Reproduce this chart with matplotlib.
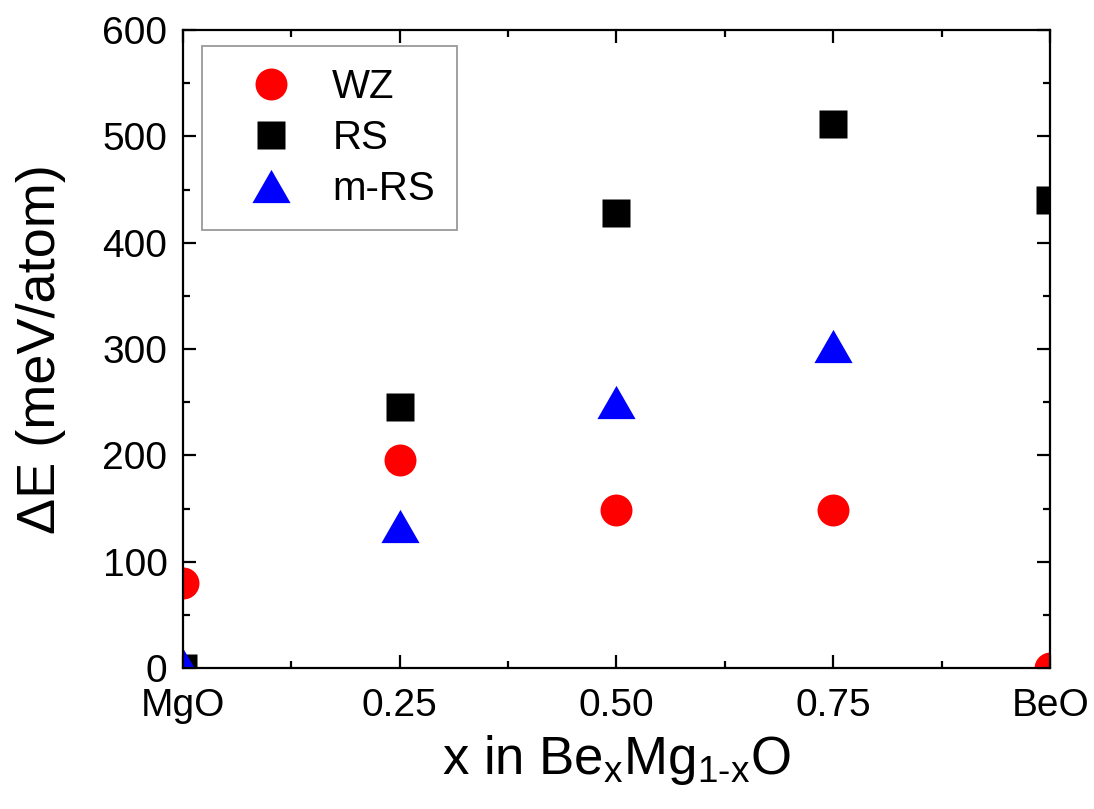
import matplotlib
matplotlib.use("Agg")
import matplotlib.pyplot as plt
from matplotlib.ticker import MultipleLocator

plt.rcParams['font.family'] = ['Liberation Sans', 'DejaVu Sans']
plt.rcParams['mathtext.fontset'] = 'custom'
plt.rcParams['mathtext.rm'] = 'Liberation Sans'
plt.rcParams['mathtext.it'] = 'Liberation Sans'

x = [0.0, 0.25, 0.50, 0.75, 1.0]
x_labels = ["MgO", "0.25", "0.50", "0.75", "BeO"]
wz = [80, 196, 149, 149, 0]
rs = [0, 246, 428, 512, 440]
x_mrs = [0.0, 0.25, 0.50, 0.75]
mrs = [3, 134, 250, 303]

tri = [(0, 0.87), (-1, -0.87), (1, -0.87), (0, 0.87)]

fig = plt.figure(figsize=(10.94, 8.09), dpi=100)
ax = fig.add_axes([0.167, 0.174, 0.793, 0.789])

ax.plot(x, wz, 'o', color='#ff0000', ms=23, mec='none', label='WZ')
ax.plot(x, rs, 's', color='black', ms=20, mec='none', label='RS')
ax.plot(x_mrs, mrs, marker=tri, ls='none', color='#0000ff', ms=27.5, mec='none', label='m-RS')

ax.set_xlim(0, 1)
ax.set_ylim(0, 600)
ax.set_xticks(x)
ax.set_xticklabels(x_labels)
ax.xaxis.set_minor_locator(MultipleLocator(0.125))
ax.yaxis.set_major_locator(MultipleLocator(100))
ax.yaxis.set_minor_locator(MultipleLocator(50))
ax.tick_params(which='both', direction='in', top=True, right=True, width=1.6, labelsize=28)
ax.tick_params(which='major', length=9.5)
ax.tick_params(which='minor', length=5)
ax.tick_params(axis='x', which='major', pad=14)
ax.tick_params(axis='y', which='major', pad=11)
for s in ax.spines.values():
    s.set_linewidth(1.6)

ax.set_ylabel("ΔE (meV/atom)", fontsize=39, labelpad=26)
ax.set_xlabel("x in Be$_{\\mathregular{x}}$Mg$_{\\mathregular{1\u2010x}}$O", fontsize=38, labelpad=7)

leg = ax.legend(loc='upper left', bbox_to_anchor=(0.022, 0.975), fontsize=29, frameon=True,
                fancybox=False, edgecolor='#808080', handletextpad=0.33, labelspacing=0.32,
                borderpad=0.55, handlelength=2.36, numpoints=1, borderaxespad=0)
leg.get_frame().set_linewidth(1.3)

fig.savefig("out.png", dpi=100)
